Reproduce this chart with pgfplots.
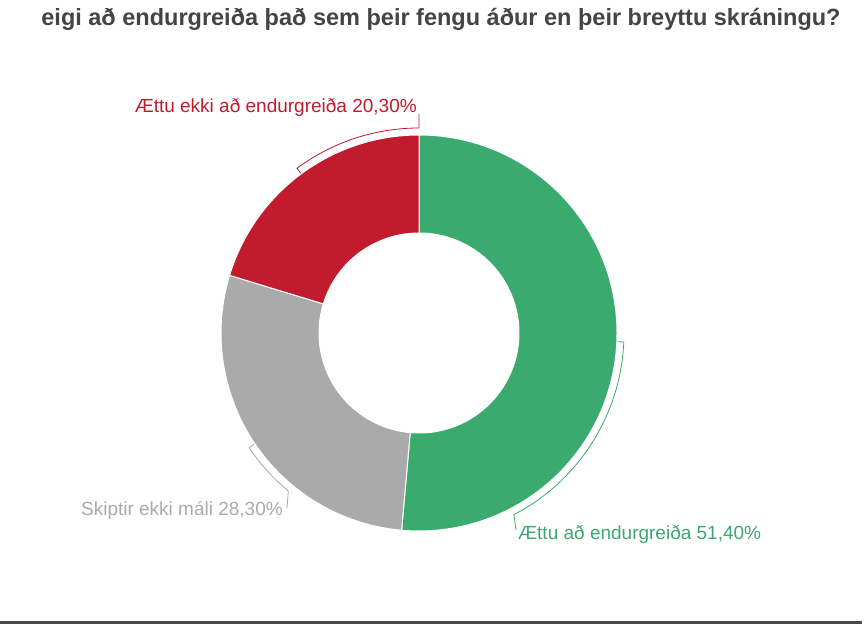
\documentclass[border=0pt]{standalone}
\usepackage{pgfplots}
\pgfplotsset{compat=1.18}
\usepackage{pgfplotstable}
\usepackage{fontspec}
\setmainfont{Liberation Sans}
\definecolor{cgreen}{HTML}{3AAA6F}
\definecolor{cgray}{HTML}{AAAAAA}
\definecolor{cred}{HTML}{C11B2D}
\definecolor{ctitle}{HTML}{444444}
\definecolor{cline}{HTML}{4A4A4A}
\pgfplotstableread{
label value
green 51.4
gray 28.3
red 20.3
}\piedata
\begin{document}
\begin{tikzpicture}
\pgfplotstablegetelem{0}{value}\of\piedata \let\va\pgfplotsretval
\pgfplotstablegetelem{1}{value}\of\piedata \let\vb\pgfplotsretval
\pgfplotstablegetelem{2}{value}\of\piedata \let\vc\pgfplotsretval
\pgfmathsetmacro{\aA}{90}
\pgfmathsetmacro{\aB}{90-3.6*\va}
\pgfmathsetmacro{\aC}{\aB-3.6*\vb}
\pgfmathsetmacro{\aD}{\aC-3.6*\vc}
\pgfmathsetmacro{\mA}{(\aA+\aB)/2}
\pgfmathsetmacro{\mB}{(\aB+\aC)/2}
\pgfmathsetmacro{\mC}{(\aC+\aD)/2+360}
\begin{axis}[scale only axis, width=865pt, height=640pt,
  xmin=0, xmax=865, ymin=0, ymax=640, hide axis, clip=false]
\coordinate (ll) at (axis cs:0,0);
\coordinate (ur) at (axis cs:865,640);
\begin{scope}[shift={(axis cs:419,307)}]
  \fill[cgreen, draw=white, line width=1pt] (\aA:198pt) arc[start angle=\aA, end angle=\aB, radius=198pt] -- (\aB:100pt) arc[start angle=\aB, end angle=\aA, radius=100pt] -- cycle;
  \fill[cgray, draw=white, line width=1pt] (\aB:198pt) arc[start angle=\aB, end angle=\aC, radius=198pt] -- (\aC:100pt) arc[start angle=\aC, end angle=\aB, radius=100pt] -- cycle;
  \fill[cred, draw=white, line width=1pt] (\aC:198pt) arc[start angle=\aC, end angle=\aD, radius=198pt] -- (\aD:100pt) arc[start angle=\aD, end angle=\aC, radius=100pt] -- cycle;
  % leaders
  \draw[cgreen, line width=0.8pt] (\mA:199pt) -- (\mA:205pt) arc[start angle=\mA, end angle=-62.4, radius=205pt] -- (97pt,-197pt);
  \draw[cgray, line width=0.8pt] (\mB:199pt) -- (\mB:205pt) arc[start angle=\mB, end angle=-129.6, radius=205pt] -- (-132pt,-175pt);
  \draw[cred, line width=0.8pt] (\mC:199pt) -- (\mC:205pt) arc[start angle=\mC, end angle=90, radius=205pt] -- (0pt,219pt);
\end{scope}
\node[anchor=east, text=cred, font=\fontsize{19pt}{22pt}\selectfont, inner sep=0pt] at (axis cs:417,533) {Ættu ekki að endurgreiða 20,30\%};
\node[anchor=west, text=cgreen, font=\fontsize{19pt}{22pt}\selectfont, inner sep=0pt] at (axis cs:518,106) {Ættu að endurgreiða 51,40\%};
\node[anchor=east, text=cgray, font=\fontsize{19pt}{22pt}\selectfont, inner sep=0pt] at (axis cs:283,130) {Skiptir ekki máli 28,30\%};
\node[text=ctitle, font=\bfseries\fontsize{23.5pt}{26pt}\selectfont, inner sep=0pt] at (axis cs:441,621) {eigi að endurgreiða það sem þeir fengu áður en þeir breyttu skráningu?};
\draw[cline, line width=3pt] (axis cs:0,17.5) -- (axis cs:862,17.5);
\end{axis}
\pgfresetboundingbox
\path[use as bounding box] (ll) rectangle (ur);
\end{tikzpicture}
\end{document}
